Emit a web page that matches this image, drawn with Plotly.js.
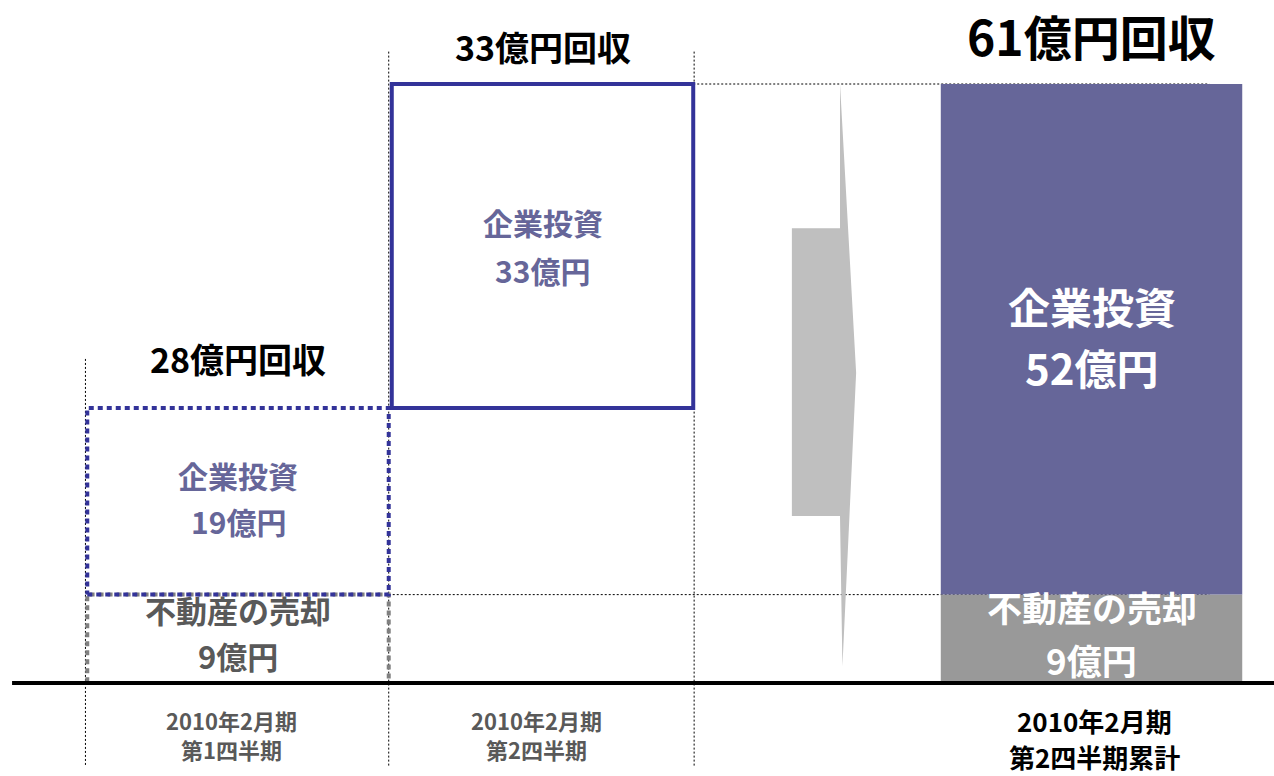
<!DOCTYPE html>
<html><head><meta charset="utf-8">
<script src="https://cdn.plot.ly/plotly-3.0.1.min.js"></script>
<style>html,body{margin:0;padding:0;background:#fff;} #chart{width:1274px;height:776px;}</style>
</head><body><div id="chart"></div>
<script>
// ---------------- data ----------------
const periodYear = ['2010年2月期', '2010年2月期', '2010年2月期'];
const periodQuarter = ['第1四半期', '第2四半期', '第2四半期累計'];
const realEstateSales = [9, 0, 9];          // 不動産の売却 (億円)
const corporateInvestment = [19, 33, 52];   // 企業投資 (億円)
const recoveredTotal = [28, 33, 61];        // 回収 (億円)
const segmentNames = ['不動産の売却', '企業投資'];
const unitLabel = '億円';
const recoveredWord = '回収';

// ---------------- layout constants ----------------
const colX = [0, 1, 2.803];
const barW = 0.99;
const FONT = 'Noto Sans CJK JP, Noto Sans CJK SC, sans-serif';
const PURPLE = '#666699', BLUE = '#333399', GRAY = '#999999', DGRAY = '#808080',
      TXTPURPLE = '#666699', TXTGRAY = '#595959', ARROW = '#bfbfbf';

// waterfall bases
const q1Top = realEstateSales[0] + corporateInvestment[0];
const q2Base = q1Top;
const q2Top = q2Base + corporateInvestment[1];
const finalMid = realEstateSales[2];
const finalTop = realEstateSales[2] + corporateInvestment[2];

function outline(i, y0, y1, color) {
  const xa = colX[i] - barW / 2, xb = colX[i] + barW / 2;
  return {type: 'scatter', mode: 'lines', x: [xa, xb, xb, xa, xa], y: [y0, y0, y1, y1, y0],
    line: {color: color, width: 4, dash: '5px,4px'}, hoverinfo: 'skip', showlegend: false};
}

const traces = [
  // cumulative stacked bar
  {type: 'bar', x: [colX[2]], y: [realEstateSales[2]], base: [0], width: barW,
   marker: {color: GRAY}, name: segmentNames[0], hoverinfo: 'skip'},
  {type: 'bar', x: [colX[2]], y: [corporateInvestment[2]], base: [realEstateSales[2]], width: barW,
   marker: {color: PURPLE}, name: segmentNames[1], hoverinfo: 'skip'},
  // Q2 box (solid outline)
  {type: 'bar', x: [colX[1]], y: [corporateInvestment[1]], base: [q2Base], width: barW,
   marker: {color: 'rgba(255,255,255,0)', line: {color: BLUE, width: 4}}, name: segmentNames[1], hoverinfo: 'skip'},
  // Q1 dotted boxes
  outline(0, 0, realEstateSales[0], DGRAY),
  outline(0, realEstateSales[0], q1Top, BLUE)
];

const ann = [];
function label(x, y, text, color, size, yshift) {
  ann.push({x: x, y: y, xref: 'x', yref: 'y', text: text, showarrow: false,
    xanchor: 'center', yanchor: 'middle', yshift: yshift,
    font: {family: FONT, size: size, color: color, weight: 700}});
}

// Q1 labels
label(colX[0], realEstateSales[0] + corporateInvestment[0] / 2, segmentNames[1], TXTPURPLE, 30, 26);
label(colX[0], realEstateSales[0] + corporateInvestment[0] / 2, corporateInvestment[0] + unitLabel, TXTPURPLE, 30, -20);
label(colX[0], realEstateSales[0] / 2, segmentNames[0], TXTGRAY, 31, 29);
label(colX[0], realEstateSales[0] / 2, realEstateSales[0] + unitLabel, TXTGRAY, 31, -17);
// Q2 labels
label(colX[1], q2Base + corporateInvestment[1] / 2, segmentNames[1], TXTPURPLE, 30, 24);
label(colX[1], q2Base + corporateInvestment[1] / 2, corporateInvestment[1] + unitLabel, TXTPURPLE, 30, -24);
// final labels
label(colX[2], finalMid + corporateInvestment[2] / 2, segmentNames[1], '#ffffff', 42, 34);
label(colX[2], finalMid + corporateInvestment[2] / 2, corporateInvestment[2] + unitLabel, '#ffffff', 42, -27);
label(colX[2], realEstateSales[2] / 2, segmentNames[0], '#ffffff', 35, 32);
label(colX[2], realEstateSales[2] / 2, realEstateSales[2] + unitLabel, '#ffffff', 35, -21);
// totals
label(colX[0], q1Top, recoveredTotal[0] + unitLabel + recoveredWord, '#000000', 34, 50);
label(colX[1], q2Top, recoveredTotal[1] + unitLabel + recoveredWord, '#000000', 34, 38);
label(colX[2], finalTop, recoveredTotal[2] + unitLabel + recoveredWord, '#000000', 48, 49);
// period labels (two lines each)
periodYear.forEach((p, i) => {
  const last = i === periodYear.length - 1;
  const dx = last ? 0.01 : -0.02;
  const size = last ? 26 : 22;
  const color = last ? '#000000' : TXTGRAY;
  label(colX[i] + dx, 0, p, color, size, last ? -37 : -37);
  label(colX[i] + dx, 0, periodQuarter[i], color, size, last ? -73 : -66);
});

// guide lines and decorations
const dotLine = {color: '#000000', width: 1, dash: '2px,2px'};
const shapes = [
  {type: 'line', xref: 'x', yref: 'y', x0: colX[0] - barW / 2 - 0.006, x1: colX[0] - barW / 2 - 0.006, y0: q1Top + 5, y1: -8.5, line: dotLine, layer: 'below'},
  {type: 'line', xref: 'x', yref: 'y', x0: colX[0] + barW / 2, x1: colX[0] + barW / 2, y0: finalTop + 3.3, y1: -8.5, line: dotLine, layer: 'below'},
  {type: 'line', xref: 'x', yref: 'y', x0: colX[1] + barW / 2 + 0.003, x1: colX[1] + barW / 2 + 0.003, y0: finalTop + 3.3, y1: -8.5, line: dotLine, layer: 'below'},
  {type: 'line', xref: 'x', yref: 'y', x0: colX[0] + barW / 2, x1: 3.19, y0: realEstateSales[2], y1: realEstateSales[2], line: dotLine, layer: 'below'},
  {type: 'line', xref: 'x', yref: 'y', x0: colX[1] + barW / 2, x1: 3.19, y0: finalTop, y1: finalTop, line: dotLine, layer: 'below'},
  // arrow
  {type: 'path', xref: 'x', yref: 'y', layer: 'below', fillcolor: ARROW, line: {width: 0},
   path: 'M 1.819,17.0 L 1.977,17.0 L 1.985,1.7 L 2.030,31.6 L 1.977,61 L 1.977,46.3 L 1.819,46.3 Z'},
  // baseline
  {type: 'line', xref: 'x', yref: 'y', x0: -0.742, x1: 3.41, y0: 0, y1: 0, line: {color: '#000000', width: 4}, layer: 'above'}
];

const layout = {
  width: 1274, height: 776,
  margin: {l: 0, r: 0, t: 0, b: 0},
  paper_bgcolor: '#ffffff', plot_bgcolor: '#ffffff',
  barmode: 'overlay', showlegend: false, hovermode: false,
  xaxis: {range: [-0.7816, 3.4023], showgrid: false, zeroline: false, showticklabels: false, showline: false, fixedrange: true},
  yaxis: {range: [-9.471, 69.555], showgrid: false, zeroline: false, showticklabels: false, showline: false, fixedrange: true},
  annotations: ann,
  shapes: shapes
};

Plotly.newPlot('chart', traces, layout, {displayModeBar: false, staticPlot: true});
</script>
</body></html>
